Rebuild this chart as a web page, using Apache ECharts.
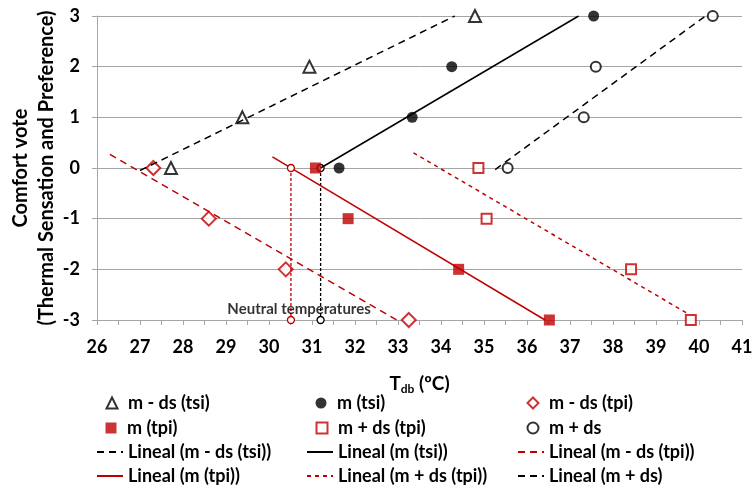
<!DOCTYPE html>
<html>
<head>
<meta charset="utf-8">
<script src="https://cdn.jsdelivr.net/npm/echarts@6/dist/echarts.min.js"></script>
<style>
  html, body { margin: 0; padding: 0; background: #fff; }
  #chart { width: 753px; height: 490px; }
</style>
</head>
<body>
<div id="chart"></div>
<script>
// Comfort votes (thermal sensation tsi / thermal preference tpi) against dry-bulb temperature
const votesUp = [0, 1, 2, 3];
const votesDown = [0, -1, -2, -3];

const tsiLowT = [27.72, 29.38, 30.94, 34.79];   // m - ds (tsi)
const tsiMeanT = [31.63, 33.33, 34.25, 37.55];  // m (tsi)
const tsiHighT = [35.55, 37.32, 37.60, 40.32];  // m + ds
const tpiLowT = [27.31, 28.60, 30.39, 33.25];   // m - ds (tpi)
const tpiMeanT = [31.08, 31.84, 34.41, 36.52];  // m (tpi)
const tpiHighT = [34.87, 35.06, 38.42, 39.81];  // m + ds (tpi)

// Linear trend lines (start / end points)
const trendTsiLow = [[27.00, -0.05], [34.32, 3]];
const trendTsiMean = [[31.20, 0], [37.20, 3]];
const trendTsiHigh = [[35.26, -0.03], [40.15, 3]];
const trendTpiLow = [[26.30, 0.27], [32.97, -3]];
const trendTpiMean = [[30.08, 0.22], [36.42, -3]];
const trendTpiHigh = [[33.36, 0.30], [39.75, -2.88]];

// Neutral temperatures (trend line crossing vote 0)
const neutralTpi = 30.51;
const neutralTsi = 31.20;
const neutralLabel = [[30.70, -2.78]];

const xTicks = { min: 26, max: 41, step: 1 };
const yTicks = { min: -3, max: 3, step: 1 };

const RED = '#c00000';
const BLACK = '#000000';
const GRAY = '#a6a6a6';
const FONT = 'Lato';

const pts = (xs, ys) => xs.map((x, i) => [x, ys[i]]);

const series = [
  { name: 'm - ds (tsi)', type: 'scatter', data: pts(tsiLowT, votesUp), symbol: 'triangle', symbolSize: 12,
    itemStyle: { color: '#fff', borderColor: BLACK, borderWidth: 2 } },
  { name: 'm (tsi)', type: 'scatter', data: pts(tsiMeanT, votesUp), symbol: 'circle', symbolSize: 11,
    itemStyle: { color: BLACK } },
  { name: 'm - ds (tpi)', type: 'scatter', data: pts(tpiLowT, votesDown), symbol: 'diamond', symbolSize: 14,
    itemStyle: { color: '#fff', borderColor: RED, borderWidth: 2 } },
  { name: 'm (tpi)', type: 'scatter', data: pts(tpiMeanT, votesDown), symbol: 'rect', symbolSize: 11,
    itemStyle: { color: RED } },
  { name: 'm + ds (tpi)', type: 'scatter', data: pts(tpiHighT, votesDown), symbol: 'rect', symbolSize: 10,
    itemStyle: { color: '#fff', borderColor: RED, borderWidth: 2 } },
  { name: 'm + ds', type: 'scatter', data: pts(tsiHighT, votesUp), symbol: 'circle', symbolSize: 10,
    itemStyle: { color: '#fff', borderColor: BLACK, borderWidth: 2 } },

  { name: 'Lineal (m - ds (tsi))', type: 'line', data: trendTsiLow, symbol: 'none',
    lineStyle: { color: BLACK, width: 1.5, type: [7, 5] }, itemStyle: { color: BLACK } },
  { name: 'Lineal (m (tsi))', type: 'line', data: trendTsiMean, symbol: 'none',
    lineStyle: { color: BLACK, width: 1.5, type: 'solid' }, itemStyle: { color: BLACK } },
  { name: 'Lineal (m - ds (tpi))', type: 'line', data: trendTpiLow, symbol: 'none',
    lineStyle: { color: RED, width: 1.5, type: [7, 5] }, itemStyle: { color: RED } },
  { name: 'Lineal (m (tpi))', type: 'line', data: trendTpiMean, symbol: 'none',
    lineStyle: { color: RED, width: 1.5, type: 'solid' }, itemStyle: { color: RED } },
  { name: 'Lineal (m + ds (tpi))', type: 'line', data: trendTpiHigh, symbol: 'none',
    lineStyle: { color: RED, width: 1.5, type: [4, 4] }, itemStyle: { color: RED } },
  { name: 'Lineal (m + ds)', type: 'line', data: trendTsiHigh, symbol: 'none',
    lineStyle: { color: BLACK, width: 1.5, type: [7, 5] }, itemStyle: { color: BLACK } },

  // neutral temperature guides
  { name: 'neutral tpi', type: 'line', data: [[neutralTpi, 0], [neutralTpi, -3]],
    symbol: 'circle', symbolSize: 7, showSymbol: true,
    lineStyle: { color: RED, width: 1.3, type: [3, 2] },
    itemStyle: { color: '#fff', borderColor: RED, borderWidth: 1.3 }, z: 3 },
  { name: 'neutral tsi', type: 'line', data: [[neutralTsi, 0], [neutralTsi, -3]],
    symbol: 'circle', symbolSize: 7, showSymbol: true,
    lineStyle: { color: BLACK, width: 1.3, type: [3, 2] },
    itemStyle: { color: '#fff', borderColor: BLACK, borderWidth: 1.3 }, z: 1 },
  { name: 'neutral label', type: 'scatter', data: neutralLabel, symbol: 'circle', symbolSize: 1,
    silent: true, itemStyle: { color: 'rgba(0,0,0,0)' },
    label: { show: true, position: 'inside', formatter: 'Neutral temperatures',
      fontFamily: FONT, fontWeight: 'bold', fontSize: 15, color: '#000' }, z: 10 }
];

// legend grid: 3 columns x 4 rows
const legendRows = [
  ['m - ds (tsi)', 'm (tsi)', 'm - ds (tpi)'],
  ['m (tpi)', 'm + ds (tpi)', 'm + ds'],
  ['Lineal (m - ds (tsi))', 'Lineal (m (tsi))', 'Lineal (m - ds (tpi))'],
  ['Lineal (m (tpi))', 'Lineal (m + ds (tpi))', 'Lineal (m + ds)']
];
const colText = [127, 337, 548];
const colIcon = [111, 321, 532];
const rowCenter = [405, 430, 454, 478];

const legends = [];
legendRows.forEach((row, r) => {
  row.forEach((name, c) => {
    const isLine = name.startsWith('Lineal');
    const base = {
      data: [name],
      top: rowCenter[r] - 11,
      padding: 0,
      selectedMode: false
    };
    const text = { fontFamily: FONT, fontWeight: 'bold', fontSize: 18, color: BLACK };
    if (isLine) {
      legends.push(Object.assign(base, {
        left: colText[c] - 5 - 26, itemWidth: 26, itemHeight: 14,
        itemStyle: { opacity: 0 },
        textStyle: text
      }));
    } else {
      const s = 11;
      const left = colIcon[c] - s / 2;
      legends.push(Object.assign(base, {
        left: left, itemWidth: s, itemHeight: s,
        textStyle: Object.assign({ padding: [0, 0, 0, colText[c] - (left + s + 5)] }, text)
      }));
    }
  });
});

const option = {
  animation: false,
  backgroundColor: '#fff',
  grid: { left: 97, right: 11, top: 16, bottom: 170, containLabel: false, outerBoundsMode: 'none' },
  legend: legends,
  xAxis: {
    type: 'value', min: xTicks.min, max: xTicks.max, interval: xTicks.step,
    name: '{t|T}{s|db}{t| (ºC)}', nameLocation: 'middle', nameGap: 53, nameMoveOverlap: false,
    nameTextStyle: { rich: {
      t: { fontFamily: FONT, fontWeight: 'bold', fontSize: 19, color: BLACK },
      s: { fontFamily: FONT, fontWeight: 'bold', fontSize: 12, color: BLACK, padding: [10, 0, 0, 0] }
    } },
    axisLine: { show: true, onZero: false, lineStyle: { color: GRAY, width: 1 } },
    axisTick: { show: true, inside: false, length: 5, lineStyle: { color: GRAY } },
    minorTick: { show: true, splitNumber: 2, length: 5, lineStyle: { color: GRAY } },
    splitLine: { show: false },
    axisLabel: { fontFamily: FONT, fontWeight: 'bold', fontSize: 18, color: BLACK, margin: 18 }
  },
  yAxis: {
    type: 'value', min: yTicks.min, max: yTicks.max, interval: yTicks.step,
    name: 'Comfort vote\n(Thermal Sensation and Preference)', nameLocation: 'middle', nameGap: 37,
    nameRotate: 90, nameMoveOverlap: false,
    nameTextStyle: { fontFamily: FONT, fontWeight: 'bold', fontSize: 20, color: BLACK, lineHeight: 26 },
    axisLine: { show: true, onZero: false, lineStyle: { color: GRAY, width: 1 } },
    axisTick: { show: true, inside: false, length: 5, lineStyle: { color: GRAY } },
    splitLine: { show: true, lineStyle: { color: GRAY, width: 1 } },
    axisLabel: { fontFamily: FONT, fontWeight: 'bold', fontSize: 18, color: BLACK, margin: 17 }
  },
  series: series
};

const chart = echarts.init(document.getElementById('chart'), null, { renderer: 'canvas' });
chart.setOption(option);
</script>
</body>
</html>
